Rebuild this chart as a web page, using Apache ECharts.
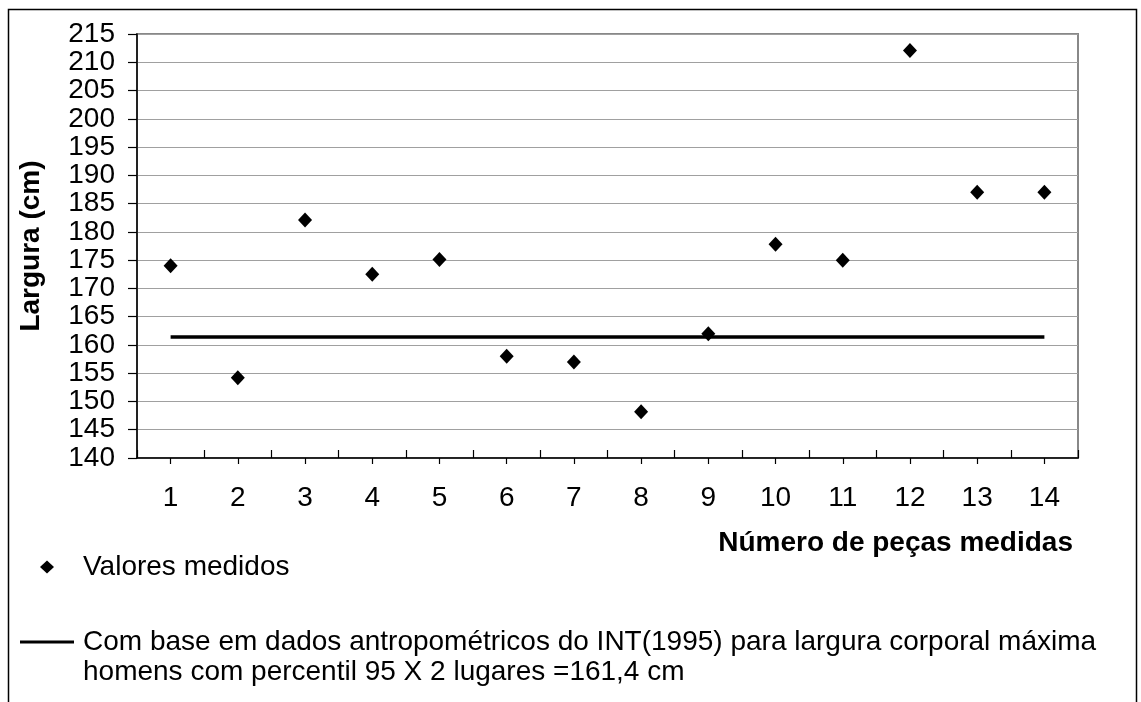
<!DOCTYPE html>
<html>
<head>
<meta charset="utf-8">
<script src="https://cdn.jsdelivr.net/npm/echarts@6/dist/echarts.min.js"></script>
<style>html,body{margin:0;padding:0;background:#fff;}#chart{width:1141px;height:702px;}</style>
</head>
<body>
<div id="chart"></div>
<script>
var categories = ['1','2','3','4','5','6','7','8','9','10','11','12','13','14'];
var measuredValues = [174, 154.2, 182.1, 172.5, 175.1, 158, 157, 148.2, 162, 177.8, 175, 212.1, 187, 187];
var referenceValues = [161.4, 161.4, 161.4, 161.4, 161.4, 161.4, 161.4, 161.4, 161.4, 161.4, 161.4, 161.4, 161.4, 161.4];
var yTicks = {min: 140, max: 215, interval: 5};
var measuredName = 'Valores medidos';
var referenceName = 'Com base em dados antropométricos do INT(1995) para largura corporal máxima\nhomens com percentil 95 X 2 lugares =161,4 cm';
var xTitle = 'Número de peças medidas';
var yTitle = 'Largura (cm)';

var FONT = '"Liberation Sans", Arial, sans-serif';
var chart = echarts.init(document.getElementById('chart'));
chart.setOption({
  animation: false,
  backgroundColor: '#fff',
  textStyle: {fontFamily: FONT, color: '#000'},
  graphic: [{
    type: 'rect', silent: true, z: -10,
    shape: {x: 8.5, y: 9.5, width: 1128, height: 800},
    style: {fill: 'none', stroke: '#000', lineWidth: 1.5}
  }],
  grid: {left: 137, right: 63, top: 34, bottom: 244, show: true, borderColor: '#888', borderWidth: 2, outerBoundsMode: 'none'},
  legend: [{
    data: [{name: measuredName, icon: 'diamond', itemStyle: {opacity: 1}}],
    left: 40, top: 552, padding: 0, itemWidth: 14, itemHeight: 13, selectedMode: false,
    textStyle: {fontFamily: FONT, fontSize: 28, color: '#000', lineHeight: 30, padding: [0, 0, 0, 24]}
  }, {
    data: [{name: referenceName, icon: 'path://M0,0H54V3H0Z M0,32.95H0.05V33H0Z'}],
    left: 20, top: 627, padding: 0, itemWidth: 54, itemHeight: 33, selectedMode: false,
    textStyle: {fontFamily: FONT, fontSize: 28, color: '#000', lineHeight: 30, padding: [0, 0, 0, 4]}
  }],
  xAxis: [{
    type: 'category', data: categories, position: 'bottom', boundaryGap: true,
    name: xTitle, nameLocation: 'end', nameGap: -5,
    nameTextStyle: {fontFamily: FONT, fontSize: 28, fontWeight: 'bold', color: '#000', align: 'right', verticalAlign: 'top', padding: [71, 0, 0, 0]},
    axisLine: {show: true, lineStyle: {color: '#000', width: 1.5}},
    axisTick: {show: true, inside: true, length: 8, alignWithLabel: false, interval: 0, lineStyle: {color: '#000', width: 1.2}},
    axisLabel: {fontFamily: FONT, fontSize: 28, color: '#000', margin: 26, interval: 0},
    splitLine: {show: false}
  }, {
    type: 'category', data: categories, position: 'bottom', boundaryGap: true,
    axisLine: {show: false},
    axisTick: {show: true, inside: false, length: 6, alignWithLabel: true, interval: 0, lineStyle: {color: '#000', width: 1.2}},
    axisLabel: {show: false},
    splitLine: {show: false}
  }],
  yAxis: {
    type: 'value', min: yTicks.min, max: yTicks.max, interval: yTicks.interval,
    name: yTitle, nameLocation: 'middle', nameGap: 92, nameRotate: 90,
    nameTextStyle: {fontFamily: FONT, fontSize: 28, fontWeight: 'bold', color: '#000'},
    axisLine: {show: true, lineStyle: {color: '#000', width: 1.5}},
    axisTick: {show: true, inside: false, length: 9, lineStyle: {color: '#000', width: 1.2}},
    axisLabel: {fontFamily: FONT, fontSize: 28, color: '#000', margin: 22},
    splitLine: {show: true, lineStyle: {color: '#a0a0a0', width: 1.2}}
  },
  series: [{
    name: referenceName, type: 'line', xAxisIndex: 0, data: referenceValues,
    symbol: 'none', lineStyle: {color: '#000', width: 3.5}, itemStyle: {color: '#000'}
  }, {
    name: measuredName, type: 'scatter', xAxisIndex: 0, data: measuredValues,
    symbol: 'diamond', symbolSize: [14, 15], itemStyle: {color: '#000', opacity: 1}
  }]
});
</script>
</body>
</html>
